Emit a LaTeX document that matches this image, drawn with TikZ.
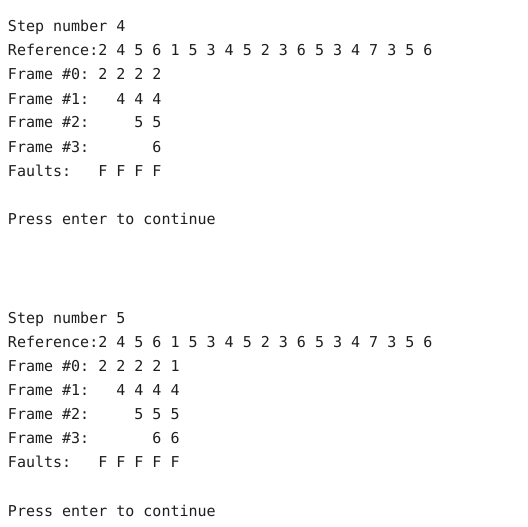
\documentclass[tikz,border=0pt]{standalone}
\usepackage{fontspec}
\setmonofont{DejaVu Sans Mono}
\definecolor{termtext}{HTML}{1E1E1E}
\begin{document}
\begin{tikzpicture}[x=1pt,y=-1pt,
  line/.style={anchor=base west,inner sep=0pt,outer sep=0pt,font=\ttfamily\fontsize{15}{15}\selectfont,text=termtext}]
\useasboundingbox[fill=white] (0,0) rectangle (528,527);
% Step 4
\node[line] (s4) at (8,32) {Step~number~4};
\node[line] (r4) at (8,56) {Reference:2~4~5~6~1~5~3~4~5~2~3~6~5~3~4~7~3~5~6};
\node[line] (a4) at (8,80) {Frame~\#0:~2~2~2~2};
\node[line] (b4) at (8,104) {Frame~\#1:~~~4~4~4};
\node[line] (c4) at (8,128) {Frame~\#2:~~~~~5~5};
\node[line] (d4) at (8,152) {Frame~\#3:~~~~~~~6};
\node[line] (f4) at (8,176) {Faults:~~~F~F~F~F};
\node[line] (p4) at (8,224) {Press~enter~to~continue};
% Step 5
\node[line] (s5) at (8,323) {Step~number~5};
\node[line] (r5) at (8,347) {Reference:2~4~5~6~1~5~3~4~5~2~3~6~5~3~4~7~3~5~6};
\node[line] (a5) at (8,371) {Frame~\#0:~2~2~2~2~1};
\node[line] (b5) at (8,395) {Frame~\#1:~~~4~4~4~4};
\node[line] (c5) at (8,419) {Frame~\#2:~~~~~5~5~5};
\node[line] (d5) at (8,443) {Frame~\#3:~~~~~~~6~6};
\node[line] (f5) at (8,467) {Faults:~~~F~F~F~F~F};
\node[line] (p5) at (8,516) {Press~enter~to~continue};
\end{tikzpicture}
\end{document}
